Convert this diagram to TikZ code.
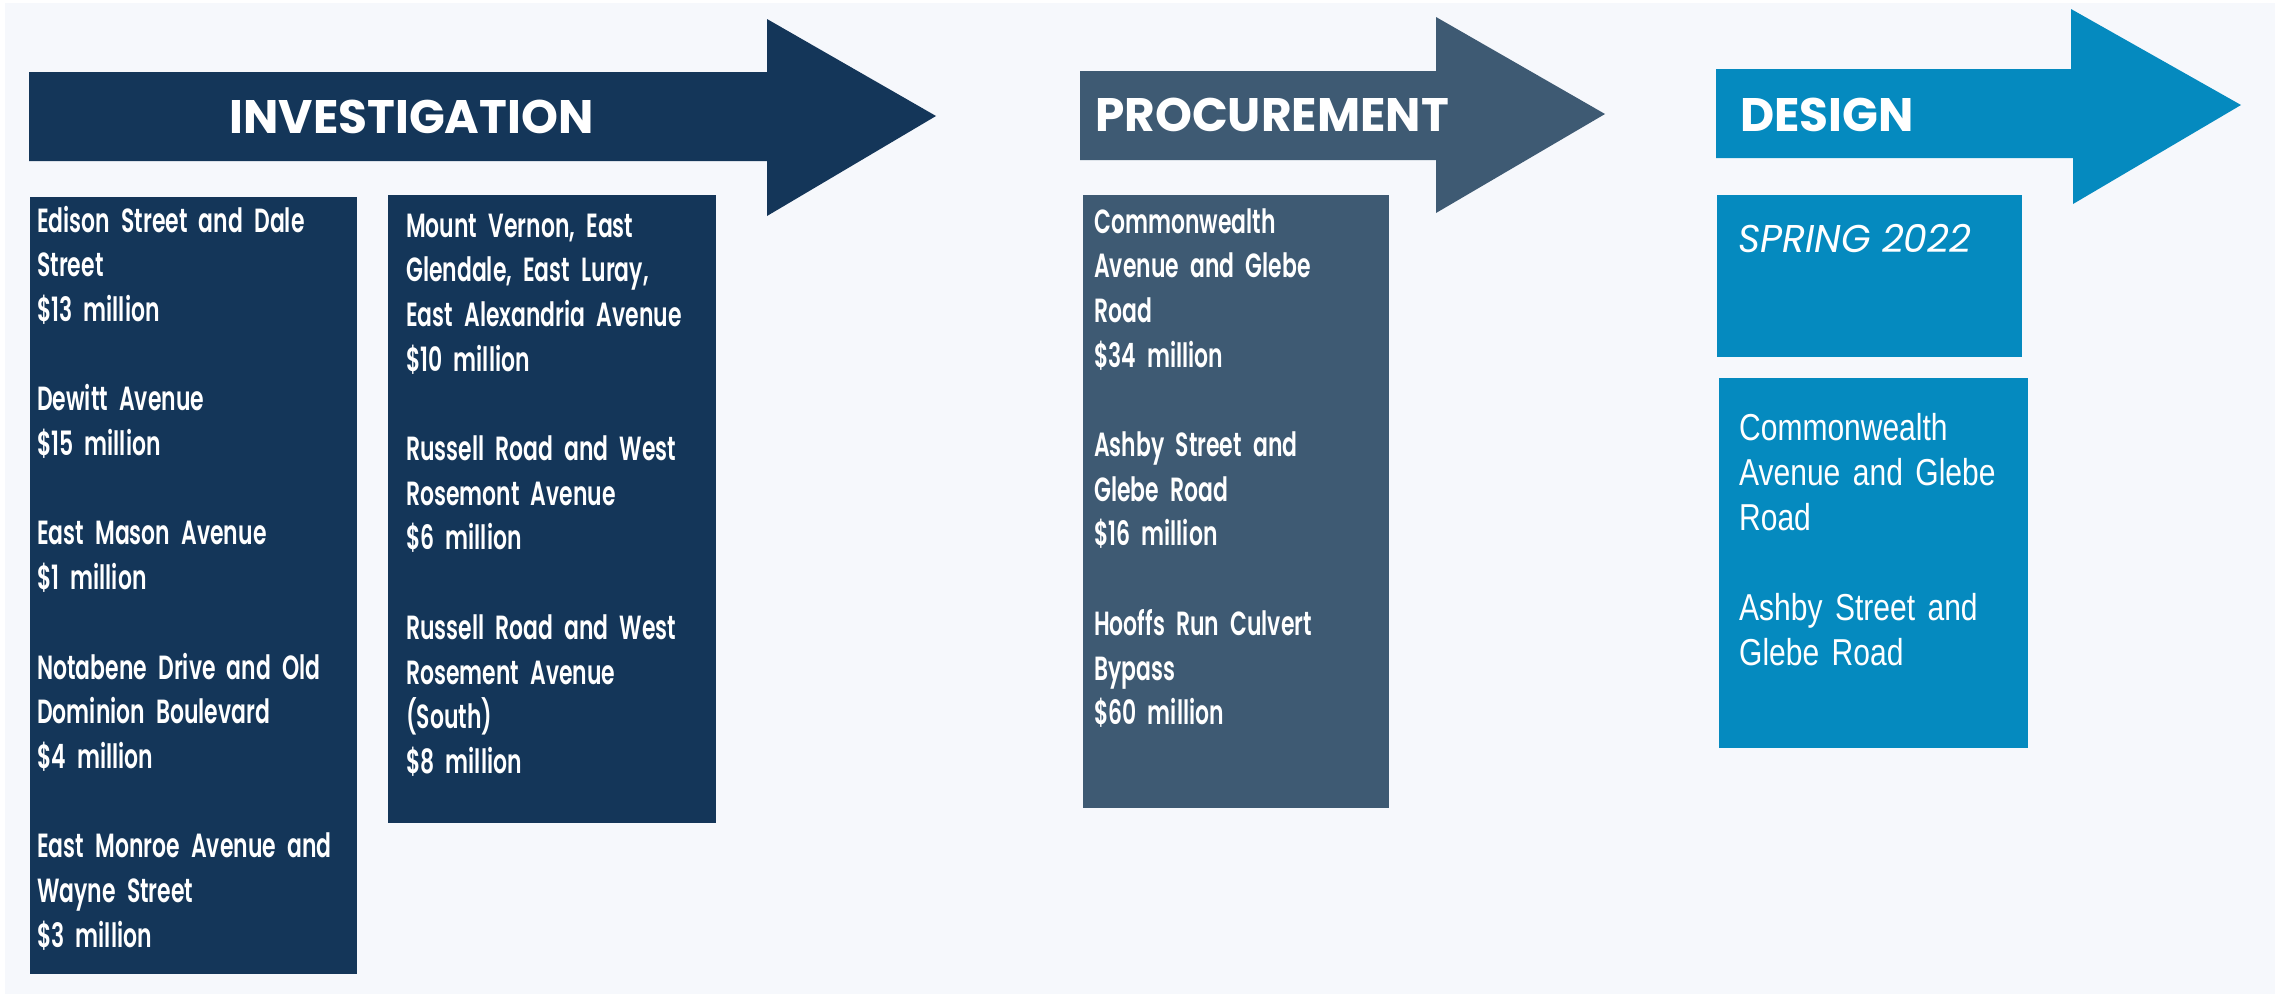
\documentclass[tikz,border=0pt]{standalone}
\usepackage{fontspec}
\newfontfamily\headf{Poppins}
\newfontfamily\bodyf[FakeStretch=0.655]{Poppins SemiBold}
\newfontfamily\springf[FakeStretch=0.98]{Poppins Italic}
\newfontfamily\narrowf[FakeStretch=0.80]{Liberation Sans}
\definecolor{invc}{RGB}{20,54,89}
\definecolor{procc}{RGB}{62,90,115}
\definecolor{desc}{RGB}{5,138,191}
\definecolor{bgc}{RGB}{246,248,252}
\tikzset{
  headtxt/.style={text=white, inner sep=0pt, font=\headf\bfseries\fontsize{47}{50}\selectfont},
  bodytxt/.style={text=white, inner sep=0pt, anchor=base west, align=left, text width=320pt, font=\bodyf\fontsize{33.5}{44.7}\selectfont},
  artxt/.style={text=white, inner sep=0pt, anchor=base west, align=left, text width=300pt, font=\narrowf\fontsize{37.5}{45}\selectfont},
}
\begin{document}
\begin{tikzpicture}[x=1pt,y=-1pt]
\useasboundingbox (0,0) rectangle (2282,994);
\fill[white] (0,0) rectangle (2282,994);
\fill[bgc] (5,3) rectangle (2275,994);
% arrows
\fill[invc] (29,72) -- (767,72) -- (767,19) -- (936,116) -- (767,216) -- (767,161) -- (29,161) -- cycle;
\fill[procc] (1080,71) -- (1436,71) -- (1436,17) -- (1605,114) -- (1436,213) -- (1436,160) -- (1080,160) -- cycle;
\fill[desc] (1716,69) -- (2071,69) -- (2071,9) -- (2241,105) -- (2073,204) -- (2073,158) -- (1716,158) -- cycle;
\node[headtxt] (hinv) at (411.5,116.5) {INVESTIGATION};
\node[headtxt, anchor=center] (hproc) at (1272,115) {PROCUREMENT};
\node[headtxt, anchor=west] (hdes) at (1740,114.5) {DESIGN};
% boxes
\fill[invc] (30,197) rectangle (357,974);
\fill[invc] (388,195) rectangle (716,823);
\fill[procc] (1083,195) rectangle (1389,808);
\fill[desc] (1717,195) rectangle (2022,357);
\fill[desc] (1719,378) rectangle (2028,748);
% texts
\node[bodytxt] (t1) at (37,232) {Edison Street and Dale\\Street\\\$13 million\\[44.7pt]Dewitt Avenue\\\$15 million\\[44.7pt]East Mason Avenue\\\$1 million\\[44.7pt]Notabene Drive and Old\\Dominion Boulevard\\\$4 million\\[44.7pt]East Monroe Avenue and\\Wayne Street\\\$3 million};
\node[bodytxt] (t2) at (406,237) {Mount Vernon, East\\Glendale, East Luray,\\East Alexandria Avenue\\\$10 million\\[44.7pt]Russell Road and West\\Rosemont Avenue\\\$6 million\\[44.7pt]Russell Road and West\\Rosement Avenue\\(South)\\\$8 million};
\node[bodytxt] (t3) at (1094,233) {Commonwealth\\Avenue and Glebe\\Road\\\$34 million\\[44.7pt]Ashby Street and\\Glebe Road\\\$16 million\\[44.7pt]Hooffs Run Culvert\\Bypass\\\$60 million};
\node[text=white, inner sep=0pt, anchor=base west, font=\springf\fontsize{38.7}{45}\selectfont] (t4) at (1738,252) {SPRING 2022};
\node[artxt] (t5) at (1739,440) {Commonwealth\\Avenue and Glebe\\Road\\[45pt]Ashby Street and\\Glebe Road};
\end{tikzpicture}
\end{document}
